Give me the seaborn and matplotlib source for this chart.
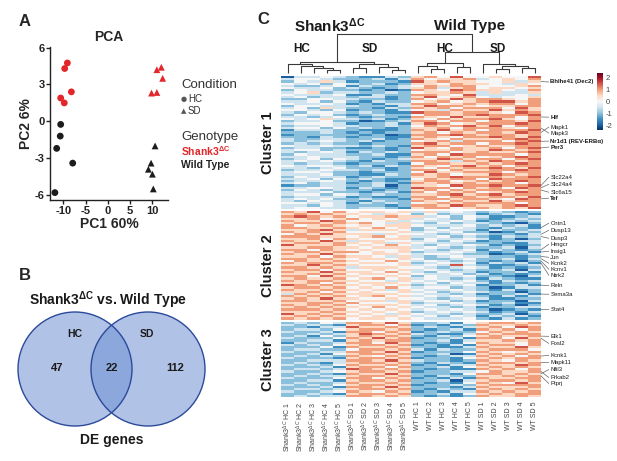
import numpy as np
import pandas as pd
import matplotlib
matplotlib.use('Agg')
import matplotlib.pyplot as plt
import seaborn as sns
from matplotlib.patches import Circle

# ---------------- DATA ----------------
# Panel A: PCA scores
pc1_values = [-9.1, -9.7, -10.6, -9.8, -8.2,
              -10.6, -10.7, -11.5, -7.9, -11.9,
              9.8, 11.0, 11.0, 12.0, 12.3,
              10.6, 9.7, 9.1, 10.0, 10.2]
pc2_values = [4.75, 4.3, 1.9, 1.5, 2.4,
              -0.25, -1.2, -2.2, -3.4, -5.8,
              2.3, 2.35, 4.2, 4.4, 3.5,
              -2.0, -3.4, -3.9, -4.3, -5.5]
genotype = ['Shank3', 'Shank3', 'Shank3', 'Shank3', 'Shank3',
            'WT', 'WT', 'WT', 'WT', 'WT',
            'Shank3', 'Shank3', 'Shank3', 'Shank3', 'Shank3',
            'WT', 'WT', 'WT', 'WT', 'WT']
condition = ['HC', 'HC', 'HC', 'HC', 'HC', 'HC', 'HC', 'HC', 'HC', 'HC',
             'SD', 'SD', 'SD', 'SD', 'SD', 'SD', 'SD', 'SD', 'SD', 'SD']

# Panel B: DE gene counts (HC only, shared, SD only)
venn_sets = ['HC', 'SD']
venn_counts = [47, 22, 112]

# Panel C: z-scored expression, one string per gene, digit 4 = 0
# column blocks: Shank3 HC | Shank3 SD | WT HC | WT SD
cluster1_rows = [
    "03343 21132 56474 45447", "34432 22313 64556 34546", "24353 12221 75655 44535",
    "43424 32312 55465 54354", "32234 13223 46566 44456", "43342 32123 56356 45545",
    "24332 21201 65476 55436", "34523 32232 45565 35335", "43334 11322 66547 33343",
    "34233 23312 57456 43445", "22443 32212 64575 66546", "33424 21322 45645 67756",
    "43343 12133 66456 56646", "24433 32213 57665 45566", "34253 22132 65646 66475",
    "44324 12213 45365 57565", "32443 23211 76656 65476", "24342 12322 46656 76667",
    "33234 21221 65475 56646", "43453 32312 54656 67546", "23342 20123 66466 46657",
    "34443 12231 57645 66676", "23343 32232 46567 57466", "34424 23212 55646 66546",
    "13332 21112 65756 46667", "22232 12122 56465 66576", "12222 21201 66676 56656",
    "22132 12211 56546 67657", "32233 22312 65465 55676", "32343 23122 45636 66467",
    "23232 21222 67566 46676", "43343 32321 56645 65566", "23322 11212 75465 56467",
    "34423 22212 45565 57656", "32343 13232 66645 65567", "24333 22311 56476 66646",
    "33433 32212 64656 45676", "23424 32123 55765 66467", "34343 21322 66536 57656",
    "32332 12221 46655 65676", "43443 23132 65467 56466", "33234 22212 54656 67657",
    "23343 32312 66465 56676", "34432 21222 47556 66466", "33342 21132 65645 57656",
    "24333 12322 55676 66567", "33424 23211 46566 47666", "23343 21212 56645 65676",
    "34233 12321 65656 56646", "12233 22302 55476 67667", "33443 13212 76646 56476",
    "24323 22122 56465 66656", "33342 21231 64656 45676", "34424 32322 55675 67566",
    "23333 12112 66466 56657", "34342 23221 56656 65476", "32433 21322 65465 57566",
    "44343 13232 45656 66646", "33243 22212 66576 55676", "34433 23321 56645 65657",
]
cluster2_rows = [
    "65746 45545 35343 23212", "56565 54354 24233 12321", "67656 45565 53424 31123",
    "55645 64545 34324 21232", "65576 44453 43343 12323", "56656 56435 32423 32102",
    "64565 45455 43334 23231", "66556 54645 24243 21321", "55675 35554 23433 13223",
    "65656 44445 34342 20132", "46575 55354 43234 32213", "66655 45645 33423 21323",
    "55646 54455 24334 31202", "65575 35544 34243 12233", "56656 54535 43332 22113",
    "75556 45464 32434 31212", "55665 54555 34323 22303", "66465 45445 43234 13212",
    "56656 64545 23343 21231", "65575 44554 34432 20123", "55646 55435 32343 32212",
    "66565 45545 42234 22313", "46556 54464 34323 21202", "65665 45545 23434 13231",
    "55756 54445 34373 21123", "66565 35554 43234 31212", "56646 44545 34323 22303",
    "65575 55464 32433 12231", "55656 45545 43342 31212", "66475 54454 24334 22103",
    "56556 45645 34323 13211", "65665 54435 43434 21323", "55646 45554 34243 31212",
    "76565 54545 23334 12231", "56656 45464 34423 20133", "65565 54535 43343 21312",
    "55646 45445 34234 32202", "36565 55554 43323 12231", "65656 45645 34343 21313",
    "56575 54454 43234 31122", "66556 45535 34423 12203", "55665 64445 23343 22311",
    "65656 45554 34234 31202", "56565 54645 43323 12233", "66656 45454 34343 20121",
    "55565 54545 23434 31213", "75656 45435 43323 22302", "56565 54554 34243 13231",
    "65656 45545 43334 21312",
]
cluster3_rows = [
    "23243 66575 22314 56656", "32321 56646 12132 65565", "22133 75565 23213 56476",
    "23324 56656 21231 65646", "32231 66465 12322 46565", "22323 57656 32113 65666",
    "23142 56565 21324 56556", "32224 65756 12231 66475", "22331 56566 22313 55656",
    "13223 66475 21214 65546", "32324 56656 12131 56646", "22241 65565 22113 65575",
    "23322 46656 31322 56664", "32233 66575 12224 65456", "22314 56656 22301 56565",
    "23232 65465 21233 65646", "32221 56656 12214 56566", "22333 66575 32212 65465",
    "23213 56656 21321 56656", "32324 65565 12133 65576", "22231 56646 22314 56565",
    "23323 76565 21211 65646", "32234 56656 12233 46556", "22321 65575 22214 66565",
    "23233 56656 21322 55656", "32224 66465 12131 65566", "22331 56656 22303 56656",
    "23223 65565 21214 65475", "32324 56656 12232 56666", "22231 66575 22213 65556",
    "23323 56656 21321 56565", "32234 65465 12133 65656", "22321 56656 22314 56566",
    "23233 66565 21212 65565",
]

column_labels = [r'Shank3$^{\Delta C}$ HC 1', r'Shank3$^{\Delta C}$ HC 2', r'Shank3$^{\Delta C}$ HC 3',
                 r'Shank3$^{\Delta C}$ HC 4', r'Shank3$^{\Delta C}$ HC 5',
                 r'Shank3$^{\Delta C}$ SD 1', r'Shank3$^{\Delta C}$ SD 2', r'Shank3$^{\Delta C}$ SD 3',
                 r'Shank3$^{\Delta C}$ SD 4', r'Shank3$^{\Delta C}$ SD 5',
                 'WT HC 1', 'WT HC 2', 'WT HC 3', 'WT HC 4', 'WT HC 5',
                 'WT SD 1', 'WT SD 2', 'WT SD 3', 'WT SD 4', 'WT SD 5']
cluster_names = ['Cluster 1', 'Cluster 2', 'Cluster 3']

gene_names = ['Bhlhe41 (Dec2)', 'Hlf', 'Mapk1', 'Mapk3', 'Nr1d1 (REV-ERBα)', 'Per3',
              'Slc22a4', 'Slc24a4', 'Slc6a15', 'Tef',
              'Cntn1', 'Dusp13', 'Dusp3', 'Hmgcr', 'Insig1', 'Jun', 'Kcnk2', 'Kcnv1',
              'Ntrk2', 'Reln', 'Sema3a', 'Stat4',
              'Elk1', 'Fosl2', 'Kcnk1', 'Mapk11', 'Nfil3', 'Prkab2', 'Ptprj']
gene_rows = [2, 18, 25, 23, 29, 32, 49, 50, 51, 55,
             68, 71, 72, 78, 79, 81, 82, 83, 84, 94, 98, 105,
             117, 118, 126, 129, 134, 133, 135]
gene_bold = ['Bhlhe41 (Dec2)', 'Hlf', 'Nr1d1 (REV-ERBα)', 'Per3', 'Tef']

# dendrogram of the 20 samples: (left, right, height), leaves are column indices
sample_tree = (
    ((0, (1, (2, (3, 4, 0.9), 1.6), 2.1), 2.6),
     ((5, 6, 1.4), (7, (8, 9, 1.0), 1.8), 2.8), 3.3),
    (((10, (11, 12, 1.2), 2.0), (13, 14, 1.7), 3.0),
     (15, ((16, 17, 1.3), (18, 19, 1.5), 2.1), 2.6), 6.4),
    12.0)

# ---------------- LAYOUT ----------------
W, H = 617, 461
SHANK_RED = '#e3262a'
gene_label_y = [2.7, 18.6, 23.1, 25.8, 29.4, 32.1, 45.7, 48.9, 52.5, 55.2,
                66.5, 69.7, 73.3, 76.0, 79.2, 81.9, 84.6, 87.3, 90.0, 94.6, 98.6, 105.4,
                117.6, 120.8, 126.2, 129.4, 132.6, 136.2, 138.9]


def fx(px):
    return px / W


def fy(py):
    return 1 - py / H


def rows_to_matrix(rows):
    return np.array([[(int(ch) - 4) * 0.5 for ch in r.replace(' ', '')] for r in rows])


def draw_tree(ax, node):
    # returns (x position, height) of the node
    if isinstance(node, int):
        return node + 0.5, 0.0
    left, right, h = node
    xl, hl = draw_tree(ax, left)
    xr, hr = draw_tree(ax, right)
    ax.plot([xl, xl, xr, xr], [hl, h, h, hr], color='#3a3a3a', lw=0.8, solid_capstyle='butt')
    return (xl + xr) / 2, h


def main():
    sns.set_style('white')
    plt.rcParams['font.family'] = ['Liberation Sans', 'DejaVu Sans']
    plt.rcParams['axes.unicode_minus'] = False
    plt.rcParams['mathtext.fontset'] = 'custom'
    plt.rcParams['mathtext.rm'] = 'Liberation Sans'
    plt.rcParams['mathtext.it'] = 'Liberation Sans:italic'
    plt.rcParams['mathtext.bf'] = 'Liberation Sans:bold'

    fig = plt.figure(figsize=(W / 100, H / 100), dpi=100)

    # ---- Panel A: PCA ----
    pca_df = pd.DataFrame({'PC1': pc1_values, 'PC2': pc2_values,
                           'Genotype': genotype, 'Condition': condition})
    ax_pca = fig.add_axes([fx(50), fy(200), fx(118), 153 / H])
    sns.scatterplot(data=pca_df, x='PC1', y='PC2', hue='Genotype', style='Condition',
                    palette={'Shank3': SHANK_RED, 'WT': '#1c1c1c'},
                    markers={'HC': 'o', 'SD': '^'}, s=24, edgecolor='none',
                    legend=False, ax=ax_pca)
    ax_pca.set_xlim(-13, 13.5)
    ax_pca.set_ylim(-6.4, 6.05)
    ax_pca.set_xticks([-10, -5, 0, 5, 10])
    ax_pca.set_yticks([-6, -3, 0, 3, 6])
    sns.despine(ax=ax_pca)
    for side in ['left', 'bottom']:
        ax_pca.spines[side].set_linewidth(1.0)
        ax_pca.spines[side].set_color('#222222')
    ax_pca.tick_params(labelsize=8, width=1, length=3, pad=1, direction='out',
                       left=True, bottom=True, colors='#222222')
    for lab in ax_pca.get_xticklabels() + ax_pca.get_yticklabels():
        lab.set_fontweight('bold')
    ax_pca.set_xlabel('PC1 60%', fontsize=10, fontweight='bold', labelpad=1)
    ax_pca.set_ylabel('PC2 6%', fontsize=10, fontweight='bold', labelpad=1)
    ax_pca.set_title('PCA', fontsize=10, fontweight='bold', pad=4)

    fig.text(fx(181), fy(85), 'Condition', fontsize=9.5, color='#333333', va='center')
    fig.text(fx(181), fy(99), '●', fontsize=5, color='#555555', va='center', family='DejaVu Sans')
    fig.text(fx(188), fy(99), 'HC', fontsize=7, color='#333333', va='center')
    fig.text(fx(181), fy(111), '▲', fontsize=5, color='#555555', va='center', family='DejaVu Sans')
    fig.text(fx(188), fy(111), 'SD', fontsize=7, color='#333333', va='center')
    fig.text(fx(181), fy(137), 'Genotype', fontsize=9.5, color='#333333', va='center')
    fig.text(fx(181), fy(151), r'Shank3$^{\mathbf{\Delta C}}$', fontsize=7.5, color=SHANK_RED,
             fontweight='bold', va='center')
    fig.text(fx(181), fy(165), 'Wild Type', fontsize=7.5, color='#222222',
             fontweight='bold', va='center')

    # ---- Panel B: Venn ----
    ax_venn = fig.add_axes([0, 0, fx(260), 231 / H])
    ax_venn.set_xlim(0, 260)
    ax_venn.set_ylim(461, 230)
    ax_venn.axis('off')
    for cx in [75, 148]:
        ax_venn.add_patch(Circle((cx, 369), 57, facecolor='#6f91d2', alpha=0.55, edgecolor='none'))
    for cx in [75, 148]:
        ax_venn.add_patch(Circle((cx, 369), 57, facecolor='none', edgecolor='#2b4a9a', lw=1.0))
    ax_venn.text(75, 334, venn_sets[0], fontsize=7.5, fontweight='bold', ha='center', va='center', color='#1a1a1a')
    ax_venn.text(147, 334, venn_sets[1], fontsize=7.5, fontweight='bold', ha='center', va='center', color='#1a1a1a')
    for x, n in zip([57, 112, 175], venn_counts):
        ax_venn.text(x, 368, str(n), fontsize=8, fontweight='bold', ha='center', va='center', color='#1a1a1a')
    ax_venn.text(108, 300, r'Shank3$^{\mathbf{\Delta C}}$ vs. Wild Type', fontsize=10,
                 fontweight='bold', ha='center', va='center', color='#1a1a1a')
    ax_venn.text(112, 440, 'DE genes', fontsize=10, fontweight='bold', ha='center', va='center',
                 color='#1a1a1a')

    # ---- Panel C: heatmap ----
    gap = np.full((1, 20), np.nan)
    blocks = [rows_to_matrix(cluster1_rows), gap, rows_to_matrix(cluster2_rows), gap,
              rows_to_matrix(cluster3_rows)]
    matrix = np.vstack(blocks)
    heat_df = pd.DataFrame(matrix, columns=column_labels)

    ax_heat = fig.add_axes([fx(281), fy(397), fx(260), 321 / H])
    cax = fig.add_axes([fx(597), fy(130), fx(6), 57 / H])
    sns.heatmap(heat_df, ax=ax_heat, cmap='RdBu_r', vmin=-2.4, vmax=2.4, center=0,
                cbar_ax=cax, yticklabels=False, xticklabels=column_labels,
                cbar_kws={'ticks': [2, 1, 0, -1, -2]})
    ax_heat.set_facecolor('white')
    ax_heat.tick_params(axis='x', length=0, pad=3, labelsize=5, labelcolor='#444444')
    for lab in ax_heat.get_xticklabels():
        lab.set_rotation(90)
    cax.tick_params(labelsize=5.5, length=0, pad=2, labelcolor='#444444')
    ax_heat.collections[0].colorbar.outline.set_visible(False)

    starts = [0, len(cluster1_rows) + 1, len(cluster1_rows) + len(cluster2_rows) + 2]
    sizes = [len(cluster1_rows), len(cluster2_rows), len(cluster3_rows)]
    for name, s0, n in zip(cluster_names, starts, sizes):
        ax_heat.text(-1.0, s0 + n / 2, name, rotation=90, fontsize=10.5, fontweight='bold',
                     ha='center', va='center', color='#1a1a1a')

    for name, row, ly in zip(gene_names, gene_rows, gene_label_y):
        ax_heat.plot([20.0, 20.6], [row + 0.5, ly], color='#666666', lw=0.5, clip_on=False)
        ax_heat.text(20.72, ly, name, fontsize=4.3, va='center', color='#1a1a1a',
                     fontweight='bold' if name in gene_bold else 'normal')

    # dendrogram on top
    ax_dend = fig.add_axes([fx(281), fy(76), fx(260), 43 / H])
    draw_tree(ax_dend, sample_tree)
    ax_dend.set_xlim(0, 20)
    ax_dend.set_ylim(-1, 12.3)
    ax_dend.axis('off')
    for x, lab in zip([1.6, 6.85, 12.6, 16.7], ['HC', 'SD', 'HC', 'SD']):
        ax_dend.text(x, 7.4, lab, fontsize=8.5, fontweight='bold', ha='center', va='center',
                     color='#1a1a1a')

    fig.text(fx(330), fy(26), r'Shank3$^{\mathbf{\Delta C}}$', fontsize=11, fontweight='bold',
             ha='center', va='center', color='#1a1a1a')
    fig.text(fx(470), fy(26), 'Wild Type', fontsize=11, fontweight='bold',
             ha='center', va='center', color='#1a1a1a')

    # panel letters
    fig.text(fx(25), fy(22), 'A', fontsize=12, fontweight='bold', ha='center', va='center')
    fig.text(fx(25), fy(275), 'B', fontsize=12, fontweight='bold', ha='center', va='center')
    fig.text(fx(263), fy(20), 'C', fontsize=12, fontweight='bold', ha='center', va='center')

    fig.savefig('out.png', dpi=100)
    plt.close(fig)


if __name__ == '__main__':
    main()
